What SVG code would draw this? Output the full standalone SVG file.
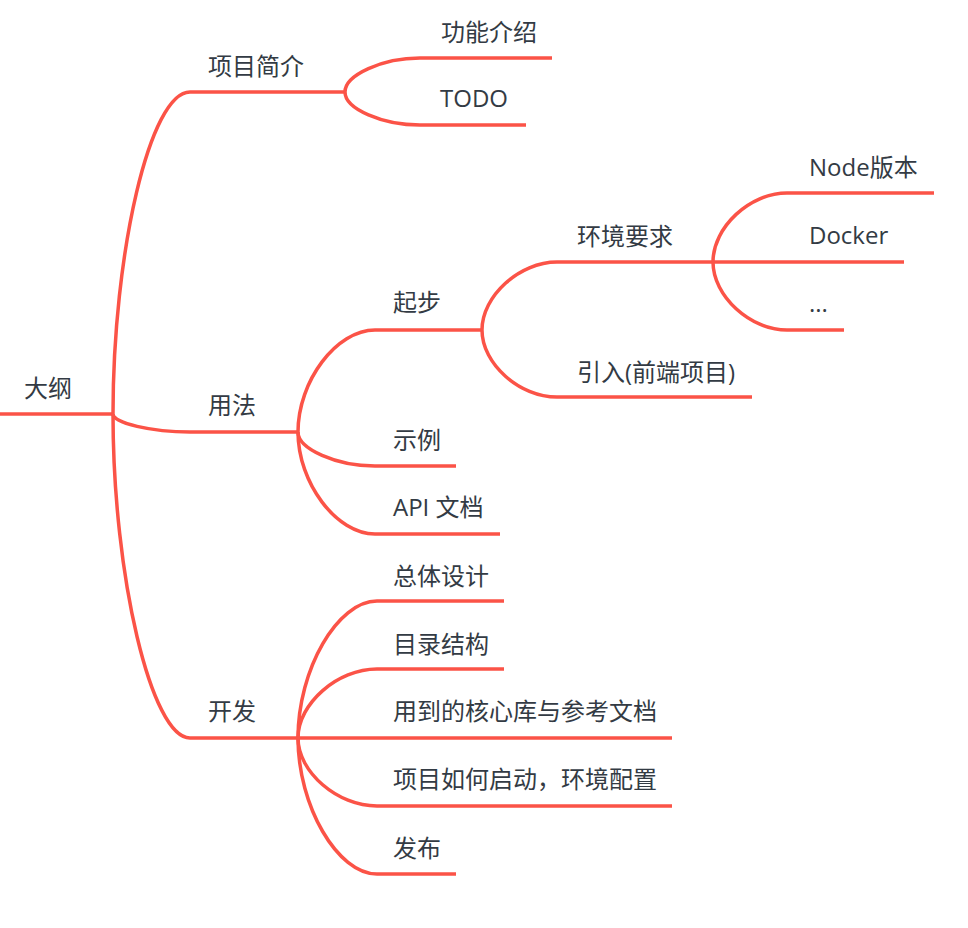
<svg xmlns="http://www.w3.org/2000/svg" width="968" height="928" viewBox="0 0 968 928">
<style>
.e{fill:none;stroke:#FB5347;stroke-width:3.5;stroke-linecap:butt}
.t{font-family:"Open Sans","Noto Sans CJK SC",sans-serif;font-size:24px;fill:#333b44}
</style>
<rect width="968" height="928" fill="#ffffff"/>
<g id="connectors">
<path class="e" d="M0,414 L113,414"/>
<path class="e" d="M113,414 C113,253 150,92 190,92 L345,92"/>
<path class="e" d="M113,414 C113,423 151.5,432 190,432 L298,432"/>
<path class="e" d="M113,414 C113,576 151.5,738 190,738 L298,738"/>
<path class="e" d="M345,92 C345,75 382.5,58 420,58 L552,58"/>
<path class="e" d="M345,92 C345,109 382.5,125 420,125 L526,125"/>
<path class="e" d="M298,432 C298,381 336.5,330 375,330 L482,330"/>
<path class="e" d="M298,432 C298,449 336.5,466 375,466 L456,466"/>
<path class="e" d="M298,432 C298,483 336.5,534 375,534 L500,534"/>
<path class="e" d="M482,330 C482,296 519.5,262 557,262 L713,262"/>
<path class="e" d="M482,330 C482,364 519.5,397 557,397 L752,397"/>
<path class="e" d="M713,262 C713,227 750,193 787,193 L934,193"/>
<path class="e" d="M713,262 L904,262"/>
<path class="e" d="M713,262 C713,296 750,330 787,330 L844,330"/>
<path class="e" d="M298,738 C298,669.5 337.5,601 377,601 L504,601"/>
<path class="e" d="M298,738 C298,703.5 337.5,669 377,669 L504,669"/>
<path class="e" d="M298,738 L672,738"/>
<path class="e" d="M298,738 C298,772 337.5,806 377,806 L672,806"/>
<path class="e" d="M298,738 C298,806 337.5,874 377,874 L456,874"/>
</g>
<g id="n-root"><text class="t" x="24" y="397">大纲</text></g>
<g id="n-intro"><text class="t" x="208" y="75">项目简介</text></g>
<g id="n-features"><text class="t" x="441" y="41">功能介绍</text></g>
<g id="n-todo"><text class="t" x="440" y="107">TODO</text></g>
<g id="n-usage"><text class="t" x="208" y="414">用法</text></g>
<g id="n-start"><text class="t" x="393" y="311">起步</text></g>
<g id="n-env"><text class="t" x="577" y="245">环境要求</text></g>
<g id="n-import"><text class="t" x="577" y="381">引入(前端项目)</text></g>
<g id="n-node"><text class="t" x="809" y="176">Node版本</text></g>
<g id="n-docker"><text class="t" x="809" y="244">Docker</text></g>
<g id="n-etc"><text class="t" x="809" y="312">...</text></g>
<g id="n-example"><text class="t" x="393" y="449">示例</text></g>
<g id="n-api"><text class="t" x="393" y="516">API 文档</text></g>
<g id="n-dev"><text class="t" x="208" y="720">开发</text></g>
<g id="n-design"><text class="t" x="393" y="585">总体设计</text></g>
<g id="n-dir"><text class="t" x="393" y="653">目录结构</text></g>
<g id="n-libs"><text class="t" x="393" y="720">用到的核心库与参考文档</text></g>
<g id="n-run"><text class="t" x="393" y="788">项目如何启动，环境配置</text></g>
<g id="n-publish"><text class="t" x="393" y="857">发布</text></g>
</svg>
